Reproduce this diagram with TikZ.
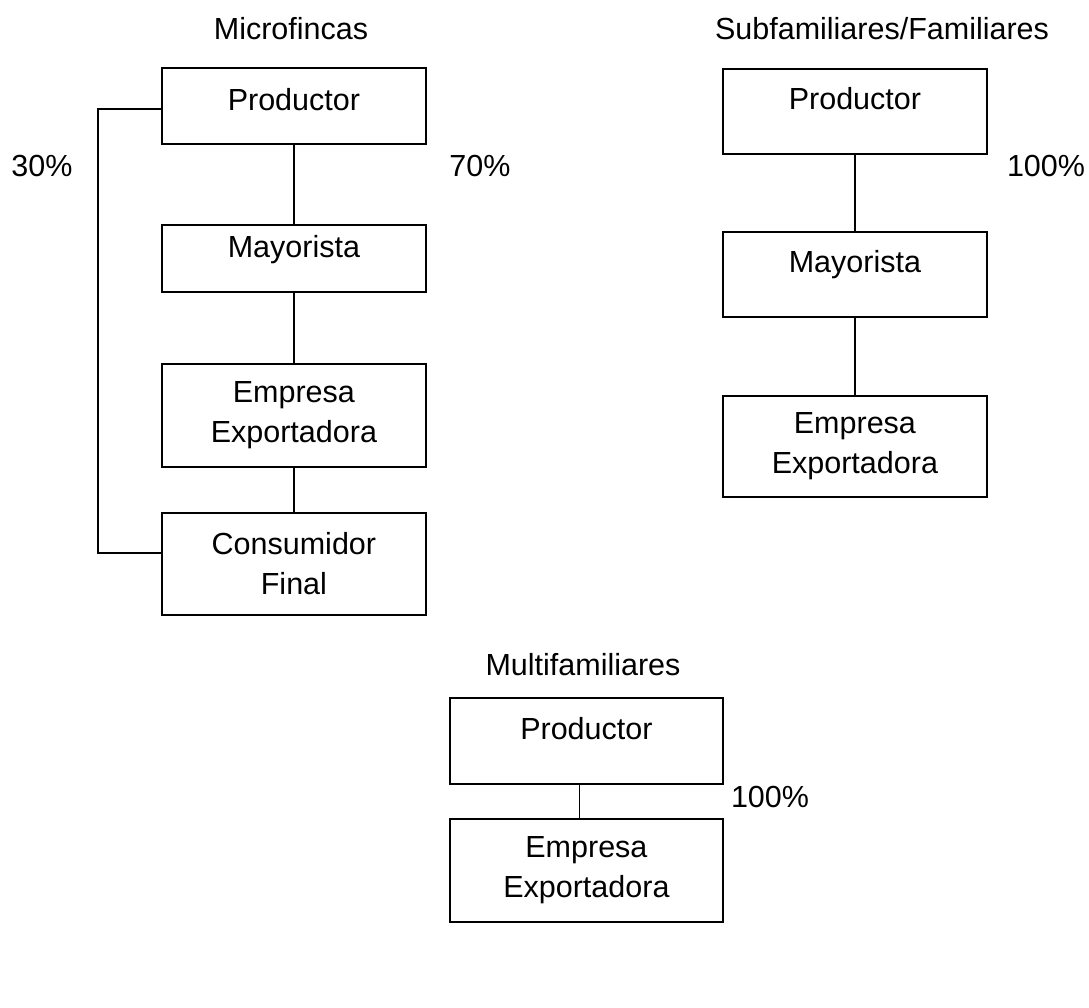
\documentclass[tikz,border=0pt]{standalone}
\usepackage{fontspec}
\setmainfont{Liberation Sans}
\newcommand\chainfont{\fontsize{30.5}{40}\selectfont}
\begin{document}
\begin{tikzpicture}[x=1pt,y=-1pt,
  box/.style={draw, line width=1.8pt, inner sep=0pt, anchor=north west,
    minimum width=264pt, align=center, font=\chainfont},
  link/.style={draw, line width=1.3pt},
  lbl/.style={inner sep=0pt, anchor=base, font=\chainfont}]
\useasboundingbox (0,0) rectangle (1089,1008);

% Microfincas chain
\node[lbl] (t1) at (291,40) {Microfincas};
\node[box, text height=43pt, text depth=33pt] (p1) at (161,67) {Productor};
\node[box, text height=33pt, text depth=34pt] (m1) at (161,224) {Mayorista};
\node[box, minimum height=103pt] (e1) at (161,363) {Empresa\\Exportadora};
\node[box, minimum height=102pt] (c1) at (161,512) {Consumidor\\Final};
\draw[link] (p1.south) -- (m1.north);
\draw[link] (m1.south) -- (e1.north);
\draw[link] (e1.south) -- (c1.north);
\draw[link] ([yshift=-3pt]p1.west) -- ++(-63,0) |- ([yshift=11pt]c1.west);
\node[lbl] (pa) at (42,177) {30\%};
\node[lbl] (pb) at (480,177) {70\%};

% Subfamiliares / Familiares chain
\node[lbl] (t2) at (882,40) {Subfamiliares/Familiares};
\node[box, text height=41pt, text depth=44pt] (p2) at (722,68) {Productor};
\node[box, text height=41pt, text depth=44pt] (m2) at (722,231) {Mayorista};
\node[box, minimum height=101pt] (e2) at (722,395) {Empresa\\Exportadora};
\draw[link] (p2.south) -- (m2.north);
\draw[link] (m2.south) -- (e2.north);
\node[lbl] (pc) at (1046,177) {100\%};

% Multifamiliares chain
\node[lbl] (t3) at (583,675) {Multifamiliares};
\node[box, minimum width=273pt, text height=42pt, text depth=44pt] (p3) at (449,697) {Productor};
\node[box, minimum width=273pt, minimum height=103pt] (e3) at (449,818) {Empresa\\Exportadora};
\draw[link] ([xshift=-7pt]p3.south) -- ([xshift=-7pt]e3.north);
\node[lbl] (pd) at (770,807) {100\%};
\end{tikzpicture}
\end{document}
